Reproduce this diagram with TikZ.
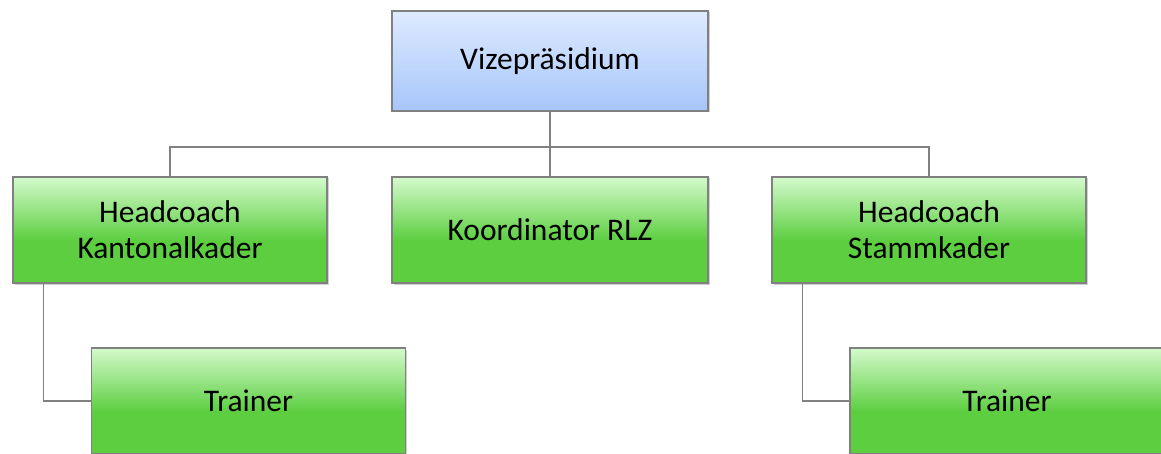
\documentclass[tikz,border=0pt]{standalone}
\usepackage{fontspec}
\setmainfont{Carlito}
\usepackage{tikz}
\usetikzlibrary{positioning,calc,shadows}
\usepackage{xcolor}

\definecolor{greentop}{RGB}{212,250,204}
\definecolor{greenbot}{RGB}{92,206,64}
\definecolor{bluetop}{RGB}{222,234,255}
\definecolor{bluebot}{RGB}{166,198,250}
\definecolor{lineg}{RGB}{128,128,128}

\pgfdeclareverticalshading{greenfade}{100bp}{color(0bp)=(greenbot); color(45bp)=(greenbot); color(75bp)=(greentop); color(100bp)=(greentop)}
\pgfdeclareverticalshading{bluefade}{100bp}{color(0bp)=(bluebot); color(25bp)=(bluebot); color(75bp)=(bluetop); color(100bp)=(bluetop)}

\tikzset{
  orgbox/.style={draw=lineg, line width=1.2pt, shading=greenfade, align=center,
    minimum width=314pt, minimum height=106pt, font=\fontsize{31.5}{36}\selectfont,
    drop shadow={shadow xshift=1.5pt, shadow yshift=-1.5pt, fill=black, opacity=0.18}},
  topbox/.style={orgbox, shading=bluefade, minimum width=316pt, minimum height=100pt},
  conn/.style={draw=lineg, line width=1.5pt}
}

\begin{document}
\begin{tikzpicture}[x=1pt, y=-1pt]
    \useasboundingbox (0,0) rectangle (1161,454);

    % Top level
    \node[topbox] (vp) at (550,61) {Vizepräsidium};

    % Second row
    \node[orgbox] (hk) at (170,230) {Headcoach\\Kantonalkader};
    \node[orgbox, minimum width=316pt] (rlz) at (550,230) {Koordinator RLZ};
    \node[orgbox] (hs) at (929,230) {Headcoach\\Stammkader};

    % Third row
    \node[orgbox] (trl) at (248.5,401) {Trainer};
    \node[orgbox] (trr) at (1007,401) {Trainer};

    % Connectors
    \coordinate (bus) at (550,147);
    \draw[conn] (vp.south) -- (bus);
    \draw[conn] (bus) -| (hk.north);
    \draw[conn] (bus) -- (rlz.north);
    \draw[conn] (bus) -| (hs.north);
    \draw[conn] ($(hk.south west)+(31,0)$) |- (trl.west);
    \draw[conn] ($(hs.south west)+(31,0)$) |- (trr.west);
\end{tikzpicture}
\end{document}
